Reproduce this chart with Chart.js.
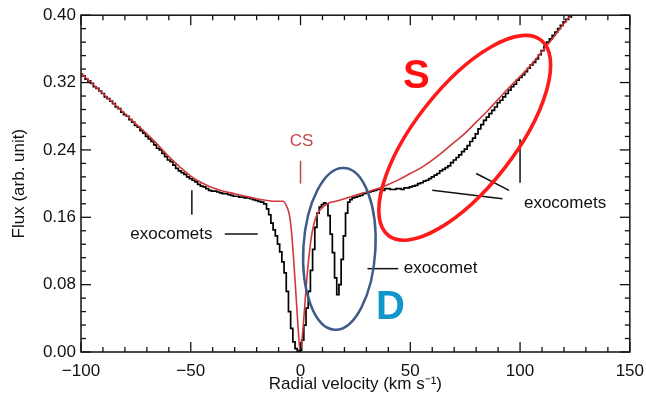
<!DOCTYPE html>
<html>
<head>
<meta charset="utf-8">
<script src="https://cdn.jsdelivr.net/npm/chart.js@4.4.1/dist/chart.umd.min.js"></script>
<style>
  html, body { margin: 0; padding: 0; background: #fff; }
  #wrap { width: 646px; height: 399px; }
</style>
</head>
<body>
<div id="wrap"><canvas id="grafico"></canvas></div>
<script>
// velocidades y flujo observado (negro)
const velObs = [-100,-98.75,-97.5,-96.25,-95,-93.75,-92.5,-91.25,-90,-88.75,-87.5,-86.25,-85,-83.75,-82.5,-81.25,-80,-78.75,-77.5,-76.25,-75,-73.75,-72.5,-71.25,-70,-68.75,-67.5,-66.25,-65,-63.75,-62.5,-61.25,-60,-58.75,-57.5,-56.25,-55,-53.75,-52.5,-51.25,-50,-48.75,-47.5,-46.25,-45,-43.75,-42.5,-41.25,-40,-38.75,-37.5,-36.25,-35,-33.75,-32.5,-31.25,-30,-28.75,-27.5,-26.25,-25,-23.75,-22.5,-21.25,-20,-18.75,-17.5,
    -16,-15,-14,-13,-12,-11,-10,-9,-8,-7,-6,-5,-4,-3,-2,-1,0,1,2,3,4,5,6,7,8,9,10,11,12,13,14,15,16,17,18,19,20,21,22,23,
    24,25.25,26.5,27.75,29,30.25,31.5,32.75,34,35.25,36.5,37.75,39,40.25,41.5,42.75,44,45.25,46.5,47.75,49,50.25,51.5,52.75,54,55.25,56.5,57.75,59,60.25,61.5,62.75,64,65.25,66.5,67.75,69,70.25,71.5,72.75,74,75.25,76.5,77.75,79,80.25,81.5,82.75,84,85.25,86.5,87.75,89,90.25,91.5,92.75,94,95.25,96.5,97.75,99,100.25,101.5,102.75,104,105.25,106.5,107.75,109,110.25,111.5,112.75,114,115.25,116.5,117.75,119,120.25,121.5,122.75,124,125.25,126.5]
const fluxObs = [0.330,0.328,0.324,0.322,0.319,0.315,0.313,0.310,0.307,0.303,0.301,0.298,0.295,0.291,0.289,0.285,0.282,0.280,0.276,0.273,0.269,0.267,0.263,0.260,0.256,0.253,0.250,0.246,0.242,0.240,0.236,0.232,0.228,0.226,0.222,0.218,0.215,0.213,0.211,0.208,0.206,0.204,0.202,0.199,0.197,0.196,0.194,0.192,0.191,0.191,0.190,0.189,0.188,0.188,0.187,0.186,0.185,0.185,0.184,0.184,0.183,0.183,0.182,0.181,0.180,0.179,0.178,
    0.176,0.170,0.163,0.153,0.145,0.138,0.128,0.119,0.107,0.094,0.072,0.048,0.028,0.012,0.004,0.001,0.002,0.014,0.032,0.052,0.072,0.097,0.122,0.148,0.165,0.172,0.175,0.177,0.176,0.162,0.140,0.118,0.088,0.068,0.080,0.110,0.138,0.165,0.178,0.181,
    0.183,0.184,0.185,0.186,0.188,0.189,0.190,0.191,0.192,0.193,0.193,0.192,0.194,0.194,0.193,0.193,0.194,0.194,0.193,0.195,0.195,0.196,0.197,0.198,0.200,0.201,0.203,0.204,0.206,0.208,0.210,0.212,0.215,0.217,0.219,0.221,0.225,0.228,0.231,0.234,0.238,0.241,0.245,0.250,0.254,0.259,0.265,0.270,0.275,0.279,0.283,0.287,0.291,0.296,0.299,0.303,0.307,0.311,0.315,0.318,0.323,0.326,0.329,0.333,0.337,0.341,0.344,0.348,0.353,0.358,0.363,0.368,0.372,0.376,0.380,0.384,0.388,0.392,0.395,0.398,0.402,0.405,0.408]

// modelo CS (rojo)
const velCS = [-100,-95,-90,-85,-80,-75,-70,-65,-60,-55,-50,-45,-40,-35,-30,-25,-20,-15,-12,-10,-8,-6.5,-5,-4,-3,-2,-1,-0.3,0.5,1.5,2.5,3.5,4.5,5.5,7,9,11,13,16,20,25,30,35,40,45,50,55,60,65,70,75,80,85,90,95,100,105,110,115,120,125]
const fluxCS = [0.331,0.319,0.307,0.295,0.283,0.271,0.259,0.246,0.232,0.220,0.209,0.201,0.195,0.191,0.188,0.185,0.182,0.180,0.179,0.179,0.179,0.174,0.162,0.140,0.105,0.065,0.025,0.003,0.010,0.040,0.075,0.105,0.128,0.145,0.160,0.169,0.174,0.177,0.179,0.182,0.186,0.190,0.194,0.199,0.205,0.212,0.219,0.228,0.238,0.249,0.260,0.273,0.286,0.300,0.314,0.327,0.341,0.357,0.373,0.390,0.406]

const xTicks = [-100, -50, 0, 50, 100, 150]
const yTicks = [0.00, 0.08, 0.16, 0.24, 0.32, 0.40]

const fuente = "'Liberation Sans', Arial, sans-serif"

function puntos(xs, ys) {
    return xs.map((v, i) => ({x: v, y: ys[i]}))
}

// marco con ticks hacia adentro y anotaciones
const marco = {
    id: 'marco',
    afterDraw(chart) {
        const {ctx, chartArea: a, scales: {x, y}} = chart
        ctx.save()
        ctx.strokeStyle = '#111'
        ctx.lineWidth = 1.5
        ctx.strokeRect(a.left, a.top, a.right - a.left, a.bottom - a.top)

        const seg = (x1, y1, x2, y2) => { ctx.beginPath(); ctx.moveTo(x1, y1); ctx.lineTo(x2, y2); ctx.stroke() }

        ctx.lineWidth = 1.3
        for (let i = 0; i <= 25; i++) {
            const px = x.getPixelForValue(-100 + i * 10)
            const l = i % 5 === 0 ? 10 : 5
            seg(px, a.bottom, px, a.bottom - l)
            seg(px, a.top, px, a.top + l)
        }
        for (let i = 0; i <= 25; i++) {
            const py = y.getPixelForValue(i * 0.016)
            const l = i % 5 === 0 ? 10 : 5
            seg(a.left, py, a.left + l, py)
            seg(a.right, py, a.right - l, py)
        }

        const X = v => x.getPixelForValue(v)
        const Y = v => y.getPixelForValue(v)

        // lineas de anotacion
        ctx.strokeStyle = '#111'
        ctx.lineWidth = 1.5
        seg(X(-49.5), Y(0.192), X(-49.5), Y(0.163))
        seg(X(-34.5), Y(0.140), X(-19.5), Y(0.140))
        seg(X(30.5), Y(0.099), X(44.5), Y(0.099))
        seg(X(100), Y(0.253), X(100), Y(0.201))
        seg(X(80), Y(0.212), X(95), Y(0.192))
        seg(X(60), Y(0.192), X(92), Y(0.182))
        ctx.strokeStyle = '#c0474f'
        seg(X(0), Y(0.227), X(0), Y(0.200))

        // textos
        ctx.textAlign = 'center'
        ctx.textBaseline = 'middle'
        ctx.font = '17px ' + fuente
        ctx.fillStyle = '#111'
        ctx.fillText('exocomets', X(-58.8), Y(0.140))
        ctx.fillText('exocomets', X(120.5), Y(0.177))
        ctx.textAlign = 'left'
        ctx.fillText('exocomet', X(47), Y(0.099))
        ctx.textAlign = 'center'
        ctx.fillStyle = '#c0474f'
        ctx.fillText('CS', X(0.5), Y(0.250))
        ctx.font = 'bold 40px ' + fuente
        ctx.fillStyle = '#ff1010'
        ctx.fillText('S', X(52.7), Y(0.327))
        ctx.fillStyle = '#1196cc'
        ctx.fillText('D', X(41), Y(0.052))

        // elipses
        ctx.lineWidth = 3.6
        ctx.strokeStyle = '#ff1a1a'
        ctx.beginPath()
        ctx.ellipse(X(74.8), Y(0.2544), 124, 50, -52 * Math.PI / 180, 0, 2 * Math.PI)
        ctx.stroke()
        ctx.lineWidth = 2.5
        ctx.strokeStyle = '#3f5c88'
        ctx.beginPath()
        ctx.ellipse(X(17.7), Y(0.1225), 36, 81, 0.06, 0, 2 * Math.PI)
        ctx.stroke()
        ctx.restore()
    }
}

const ctx = document.getElementById('grafico').getContext('2d')

const data = {
    datasets: [{
        label: 'CS',
        data: puntos(velCS, fluxCS),
        borderColor: '#d0383d',
        borderWidth: 1.6,
        pointRadius: 0,
        tension: 0.3,
        cubicInterpolationMode: 'monotone'
    }, {
        label: 'observado',
        data: puntos(velObs, fluxObs),
        borderColor: '#000',
        borderWidth: 1.7,
        pointRadius: 0,
        stepped: 'middle'
    }]
}

const options = {
    responsive: false,
    animation: false,
    layout: {padding: {left: 0, right: 16, top: 14, bottom: 0}},
    plugins: {
        legend: {display: false},
        tooltip: {enabled: false}
    },
    scales: {
        x: {
            type: 'linear',
            min: -100,
            max: 150,
            afterFit: s => { s.height = 47 },
            afterBuildTicks: s => { s.ticks = xTicks.map(v => ({value: v})) },
            grid: {display: false, tickLength: 7},
            border: {display: false},
            ticks: {
                color: '#111',
                padding: 2,
                maxRotation: 0,
                font: {family: fuente, size: 17},
                callback: v => String(v).replace('-', '\u2212')
            },
            title: {
                display: true,
                text: 'Radial velocity (km s\u207B\u00B9)',
                color: '#111',
                font: {family: fuente, size: 17},
                padding: {top: 0, bottom: 4}
            }
        },
        y: {
            min: 0,
            max: 0.4,
            afterFit: s => { s.width = 81 },
            afterBuildTicks: s => { s.ticks = yTicks.map(v => ({value: v})) },
            grid: {display: false, drawTicks: false},
            border: {display: false},
            ticks: {
                color: '#111',
                padding: 5,
                font: {family: fuente, size: 17},
                callback: v => v.toFixed(2)
            },
            title: {
                display: true,
                text: 'Flux (arb. unit)',
                color: '#111',
                font: {family: fuente, size: 17},
                padding: {top: 9, bottom: 0}
            }
        }
    }
}

const canvas = document.getElementById('grafico')
canvas.width = 646
canvas.height = 399
new Chart(ctx, {type: 'line', data, options, plugins: [marco]})
</script>
</body>
</html>
